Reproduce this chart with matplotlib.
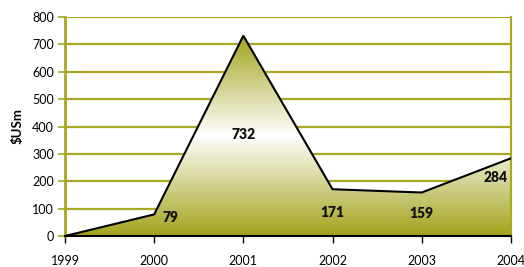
import numpy as np
import matplotlib.pyplot as plt
from matplotlib.colors import LinearSegmentedColormap

plt.rcParams['font.family'] = ['Lato', 'DejaVu Sans']

years = [1999, 2000, 2001, 2002, 2003, 2004]
values = [0, 79, 732, 171, 159, 284]
labels = ['', '79', '732', '171', '159', '284']
# where the value labels sit (data coords)
label_pos = [None, (2000.18, 66), (2001, 372), (2002, 86), (2003, 82), (2003.83, 215)]

olive = '#a3a31c'
grid_col = '#a8a823'

fig = plt.figure(figsize=(5.24, 2.67), dpi=100)
ax = fig.add_axes([0.124, 0.116, 0.851, 0.82])

# gradient fill: olive - white - olive, clipped to the area
cmap = LinearSegmentedColormap.from_list('ow', [olive, '#ffffff', olive])
grad = np.linspace(0, 1, 256).reshape(-1, 1)
poly = ax.fill_between(years, values, 0, color='none', zorder=2)
img = ax.imshow(grad, cmap=cmap, aspect='auto', origin='lower',
                extent=[years[0], years[-1], 0, max(values)], zorder=2)
img.set_clip_path(poly.get_paths()[0], transform=ax.transData)
ax.plot(years, values, color='black', lw=1.5, zorder=3, solid_joinstyle='miter')

for lab, pos in zip(labels, label_pos):
    if pos:
        ax.text(pos[0], pos[1], lab, ha='center', va='center',
                fontsize=10, fontweight='heavy', color='#111111', zorder=4)

ax.set_xlim(1999, 2004)
ax.set_ylim(0, 800)
ax.set_xticks(years)
ax.set_yticks(range(0, 801, 100))
ax.yaxis.grid(True, color=grid_col, lw=1.6)
ax.set_axisbelow(True)

ax.spines['top'].set_visible(False)
ax.spines['left'].set_color(grid_col)
ax.spines['left'].set_linewidth(2)
ax.spines['right'].set_color(grid_col)
ax.spines['right'].set_linewidth(1.6)
ax.spines['bottom'].set_color('black')
ax.spines['bottom'].set_linewidth(1.5)
ax.spines['bottom'].set_zorder(5)

ax.tick_params(axis='x', length=5, width=1, color='black', pad=9, labelsize=9)
ax.tick_params(axis='y', length=5, width=1.2, color=grid_col, pad=3, labelsize=9)
ax.set_ylabel('$USm', fontsize=9.5, fontweight='bold', labelpad=6)

fig.savefig('out.png', dpi=100)
